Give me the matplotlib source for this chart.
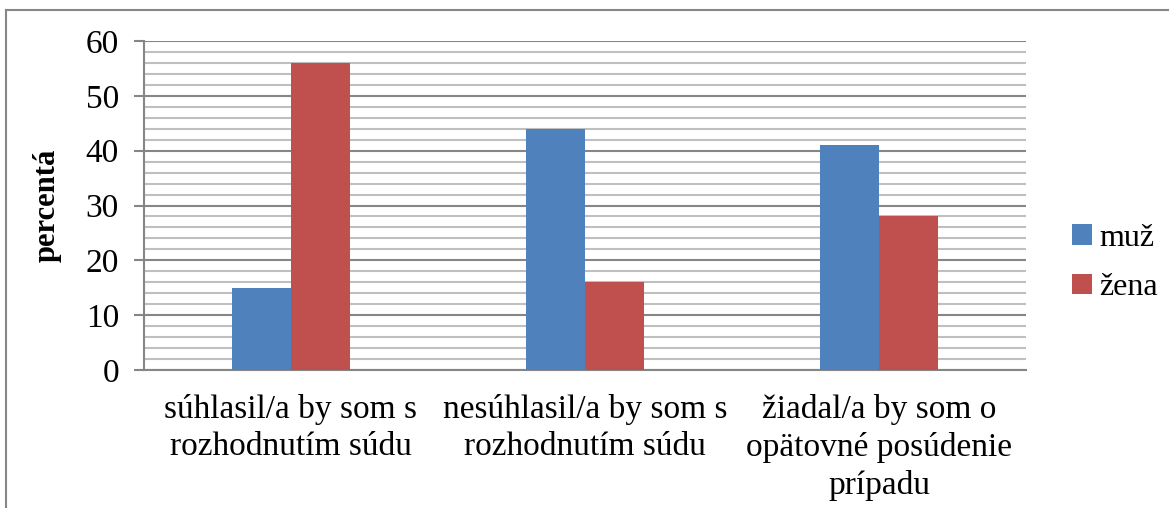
import matplotlib.pyplot as plt
import numpy as np
from matplotlib.lines import Line2D

categories = ['súhlasil/a by som s\nrozhodnutím súdu',
              'nesúhlasil/a by som s\nrozhodnutím súdu',
              'žiadal/a by som o\nopätovné posúdenie\nprípadu']
muz = [15, 44, 41]
zena = [56, 16, 28]
series_names = ['muž', 'žena']

plt.rcParams['font.family'] = ['Liberation Serif', 'DejaVu Serif']

fig = plt.figure(figsize=(11.69, 5.08), dpi=100)
ax = fig.add_axes([144 / 1169, 1 - 370 / 508, (1026 - 144) / 1169, (370 - 41) / 508])

x = np.arange(len(categories))
w = 0.2
ax.bar(x - w / 2, muz, w, color='#4F81BD', label=series_names[0], zorder=3)
ax.bar(x + w / 2, zena, w, color='#C0504D', label=series_names[1], zorder=3)

ax.set_xlim(-0.5, 2.5)
ax.set_ylim(0, 60)
ax.set_yticks(np.arange(0, 61, 10))
ax.set_yticks(np.arange(0, 61, 2), minor=True)
ax.grid(True, axis='y', which='major', color='#868686', linewidth=1.5, zorder=0)
ax.grid(True, axis='y', which='minor', color='#BFBFBF', linewidth=1.5, zorder=0)
ax.set_axisbelow(True)

for s in ['top', 'right']:
    ax.spines[s].set_visible(False)
for s in ['left', 'bottom']:
    ax.spines[s].set_color('#868686')
    ax.spines[s].set_linewidth(1.5)

ax.tick_params(axis='y', which='major', length=7, width=1.5, color='#868686',
               labelsize=24, pad=11)
ax.tick_params(axis='y', which='minor', length=0)
ax.set_xticks(x)
ax.set_xticklabels(categories, fontsize=24, linespacing=1.3)
ax.tick_params(axis='x', length=0, pad=17)

ax.set_ylabel('percentá', fontsize=22, fontweight='bold', labelpad=17)

ax.legend(loc='center left', bbox_to_anchor=(1.02, 0.325), frameon=False,
          fontsize=23, handlelength=0.6, handleheight=0.6, handletextpad=0.25,
          labelspacing=0.65)

# chart border
fig.add_artist(Line2D([6 / 1169, 6 / 1169], [0, 1 - 10 / 508], color='#868686',
                      linewidth=1.5, transform=fig.transFigure))
fig.add_artist(Line2D([6 / 1169, 1], [1 - 10 / 508, 1 - 10 / 508], color='#868686',
                      linewidth=1.5, transform=fig.transFigure))

fig.savefig('out.png', dpi=100)
